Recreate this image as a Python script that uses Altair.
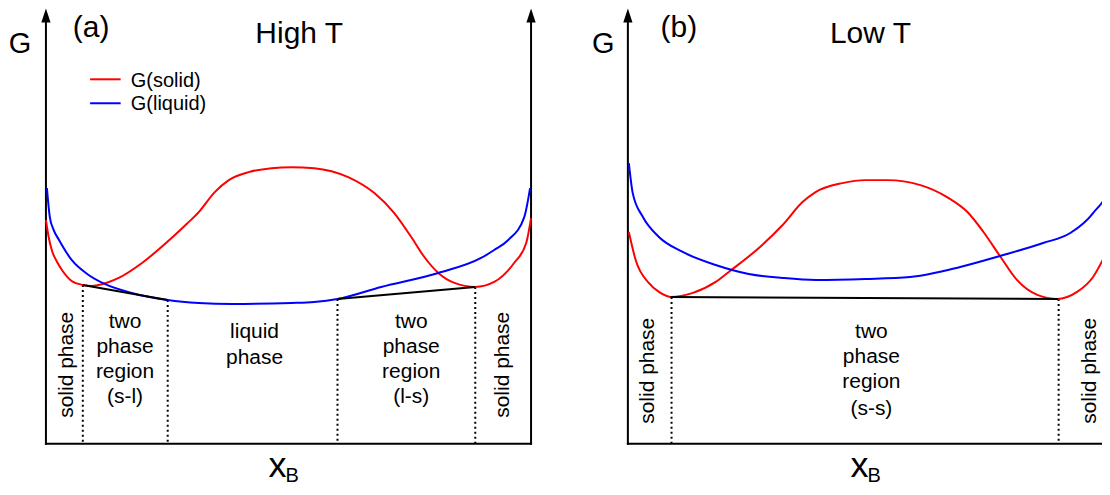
import altair as alt
import pandas as pd

FONT = "Liberation Sans"

# ---------------- data ----------------
series_names = ["G(solid)", "G(liquid)"]
series_colors = ["#ff0000", "#0000ff"]

# panel (a) High T
a_solid_x = [0.000, 0.006, 0.012, 0.023, 0.033, 0.053, 0.076, 0.093, 0.109, 0.150, 0.198,
             0.259, 0.290, 0.315, 0.348, 0.377, 0.418, 0.465, 0.506, 0.553, 0.623, 0.677,
             0.718, 0.753, 0.780, 0.809, 0.842, 0.885, 0.924, 0.965, 0.990, 1.000]
a_solid_G = [2.24, 2.06, 1.94, 1.82, 1.74, 1.63, 1.59, 1.58, 1.59, 1.66, 1.81,
             2.06, 2.20, 2.32, 2.52, 2.64, 2.72, 2.76, 2.77, 2.76, 2.67, 2.51,
             2.31, 2.07, 1.87, 1.71, 1.61, 1.57, 1.62, 1.81, 2.01, 2.26]
a_liquid_x = [0.002, 0.008, 0.016, 0.027, 0.053, 0.088, 0.121, 0.177, 0.251, 0.315, 0.383,
              0.506, 0.553, 0.601, 0.691, 0.809, 0.897, 0.924, 0.953, 0.986, 0.998]
a_liquid_G = [2.56, 2.27, 2.14, 2.04, 1.84, 1.69, 1.60, 1.51, 1.44, 1.41, 1.40,
              1.41, 1.42, 1.45, 1.57, 1.71, 1.86, 1.94, 2.04, 2.27, 2.56]
a_tan_x1 = [0.076, 0.601]
a_tan_G1 = [1.59, 1.45]
a_tan_x2 = [0.251, 0.885]
a_tan_G2 = [1.44, 1.57]
a_bound_x = [0.076, 0.251, 0.601, 0.885]
a_bound_G = [1.59, 1.44, 1.45, 1.57]

# panel (b) Low T
b_solid_x = [0.002, 0.016, 0.043, 0.064, 0.088, 0.134, 0.181, 0.208, 0.270, 0.319, 0.360,
             0.387, 0.442, 0.490, 0.535, 0.603, 0.658, 0.700, 0.733, 0.767, 0.802, 0.844,
             0.885, 0.926, 0.959, 0.979, 0.992, 1.000]
b_solid_G = [2.12, 1.84, 1.61, 1.52, 1.47, 1.51, 1.62, 1.72, 1.96, 2.19, 2.42,
             2.52, 2.61, 2.64, 2.64, 2.59, 2.47, 2.32, 2.12, 1.88, 1.64, 1.49,
             1.45, 1.52, 1.67, 1.84, 1.97, 2.10]
b_liquid_x = [0.002, 0.010, 0.031, 0.064, 0.113, 0.181, 0.249, 0.319, 0.387, 0.490, 0.582,
              0.685, 0.767, 0.856, 0.912, 0.959, 0.992, 1.000]
b_liquid_G = [2.81, 2.51, 2.27, 2.07, 1.92, 1.79, 1.70, 1.66, 1.64, 1.65, 1.67,
              1.77, 1.88, 2.01, 2.11, 2.31, 2.57, 2.75]
b_tan_x1 = [0.088]
b_tan_G1 = [1.47]
b_tan_x2 = [0.887]
b_tan_G2 = [1.45]
b_bound_x = [0.090, 0.888]
b_bound_G = [1.47, 1.45]

# ---------------- layout constants ----------------
G_DOM = [-0.43, 4.36]
H = 479
AXIS_TOP = 4.25
ARROW_G = 4.29
ARROW_PATH = "M0,-1L0.66,1L-0.66,1Z"


def text_layer(df, X, Y, size, align="center", baseline="alphabetic", angle=0):
    return alt.Chart(df).mark_text(
        font=FONT, fontSize=size, align=align, baseline=baseline, angle=angle, color="black"
    ).encode(X, Y, text="t:N")


def panel(sx, sG, lx, lG, tx1, tG1, tx2, tG2, bx, bG, xdom, width,
          tag, tag_x, title, title_x, regions, solid_lbl, legend):
    X = alt.X("x:Q", scale=alt.Scale(domain=xdom, nice=False, zero=False), axis=None)
    Y = alt.Y("G:Q", scale=alt.Scale(domain=G_DOM, nice=False, zero=False), axis=None)
    color = alt.Color("series:N", scale=alt.Scale(domain=series_names, range=series_colors),
                      legend=None)

    curves = pd.DataFrame({
        "x": sx + lx, "G": sG + lG,
        "series": [series_names[0]] * len(sx) + [series_names[1]] * len(lx),
    })
    frame = pd.DataFrame({"x": [0, 1, 0], "G": [0, 0, 0], "x2": [0, 1, 1],
                          "G2": [AXIS_TOP, AXIS_TOP, 0]})
    arrows = pd.DataFrame({"x": [0, 1], "G": [ARROW_G, ARROW_G]})
    tang = pd.DataFrame({"x": tx1, "G": tG1, "x2": tx2, "G2": tG2})
    bounds = pd.DataFrame({"x": bx, "G": bG, "G2": [0] * len(bx)})

    layers = [
        alt.Chart(frame).mark_rule(color="black", strokeWidth=2, strokeCap="square", clip=True)
        .encode(X, Y, x2="x2:Q", y2="G2:Q"),
        alt.Chart(arrows).mark_point(shape=ARROW_PATH, size=196, filled=True, color="black",
                                     opacity=1, strokeWidth=0, clip=True).encode(X, Y),
        alt.Chart(bounds).mark_rule(color="black", strokeWidth=2, strokeDash=[2, 3])
        .encode(X, Y, y2="G2:Q"),
        alt.Chart(curves).mark_line(strokeWidth=2, interpolate="monotone", clip=True)
        .encode(X, Y, color=color, detail="series:N"),
        alt.Chart(tang).mark_rule(color="black", strokeWidth=2).encode(X, Y, x2="x2:Q", y2="G2:Q"),
    ]

    # titles
    layers.append(text_layer(pd.DataFrame({"x": [tag_x[0]], "G": [3.91], "t": ["G"]}), X, Y, 29))
    layers.append(text_layer(pd.DataFrame({"x": [tag_x[1]], "G": [4.07], "t": [tag]}), X, Y, 30))
    layers.append(text_layer(pd.DataFrame({"x": [title_x], "G": [4.01], "t": [title]}), X, Y, 30))
    # x_B
    layers.append(text_layer(pd.DataFrame({"x": [0.459], "G": [-0.33], "t": ["x"]}), X, Y, 36,
                             align="left"))
    layers.append(text_layer(pd.DataFrame({"x": [0.494], "G": [-0.385], "t": ["B"]}), X, Y, 20,
                             align="left"))
    # region labels
    rx, rG, rt = [], [], []
    for cx, lines, gs in regions:
        for line, g in zip(lines, gs):
            rx.append(cx)
            rG.append(g)
            rt.append(line)
    layers.append(text_layer(pd.DataFrame({"x": rx, "G": rG, "t": rt}), X, Y, 21))
    layers.append(text_layer(pd.DataFrame({"x": solid_lbl[0], "G": solid_lbl[1],
                                           "t": ["solid phase"] * len(solid_lbl[0])}),
                             X, Y, 21, baseline="middle", angle=270))

    if legend:
        leg = pd.DataFrame({"x": [0.091, 0.091], "x2": [0.154, 0.154], "G": [3.65, 3.41],
                            "series": series_names})
        layers.append(alt.Chart(leg).mark_rule(strokeWidth=2)
                      .encode(X, Y, x2="x2:Q", color=color))
        legt = pd.DataFrame({"x": [0.175, 0.175], "G": [3.57, 3.34], "t": series_names})
        layers.append(text_layer(legt, X, Y, 20, align="left"))

    return alt.layer(*layers).properties(width=width, height=H)


two_lines_a = ["two", "phase", "region"]
panel_a = panel(
    a_solid_x, a_solid_G, a_liquid_x, a_liquid_G,
    a_tan_x1, a_tan_G1, a_tan_x2, a_tan_G2, a_bound_x, a_bound_G,
    xdom=[-0.0741, 1.0720], width=557,
    tag="(a)", tag_x=(-0.0535, 0.093), title="High T", title_x=0.522,
    regions=[
        (0.163, two_lines_a + ["(s-l)"], [1.16, 0.91, 0.66, 0.41]),
        (0.430, ["liquid", "phase"], [1.055, 0.80]),
        (0.753, two_lines_a + ["(l-s)"], [1.16, 0.91, 0.66, 0.41]),
    ],
    solid_lbl=([0.043, 0.942], [0.79, 0.79]),
    legend=True,
)

panel_b = panel(
    b_solid_x, b_solid_G, b_liquid_x, b_liquid_G,
    b_tan_x1, b_tan_G1, b_tan_x2, b_tan_G2, b_bound_x, b_bound_G,
    xdom=[-0.1276, 0.9774], width=537,
    tag="(b)", tag_x=(-0.051, 0.105), title="Low T", title_x=0.500,
    regions=[
        (0.502, ["two", "phase", "region", "(s-s)"], [1.055, 0.805, 0.555, 0.285]),
    ],
    solid_lbl=([0.041, 0.953], [0.73, 0.73]),
    legend=False,
)

chart = (
    alt.hconcat(panel_a, panel_b, spacing=0)
    .properties(padding=0, background="white")
    .configure_view(stroke=None)
)

chart.save("out.html", embed_options={"renderer": "svg", "actions": False})
